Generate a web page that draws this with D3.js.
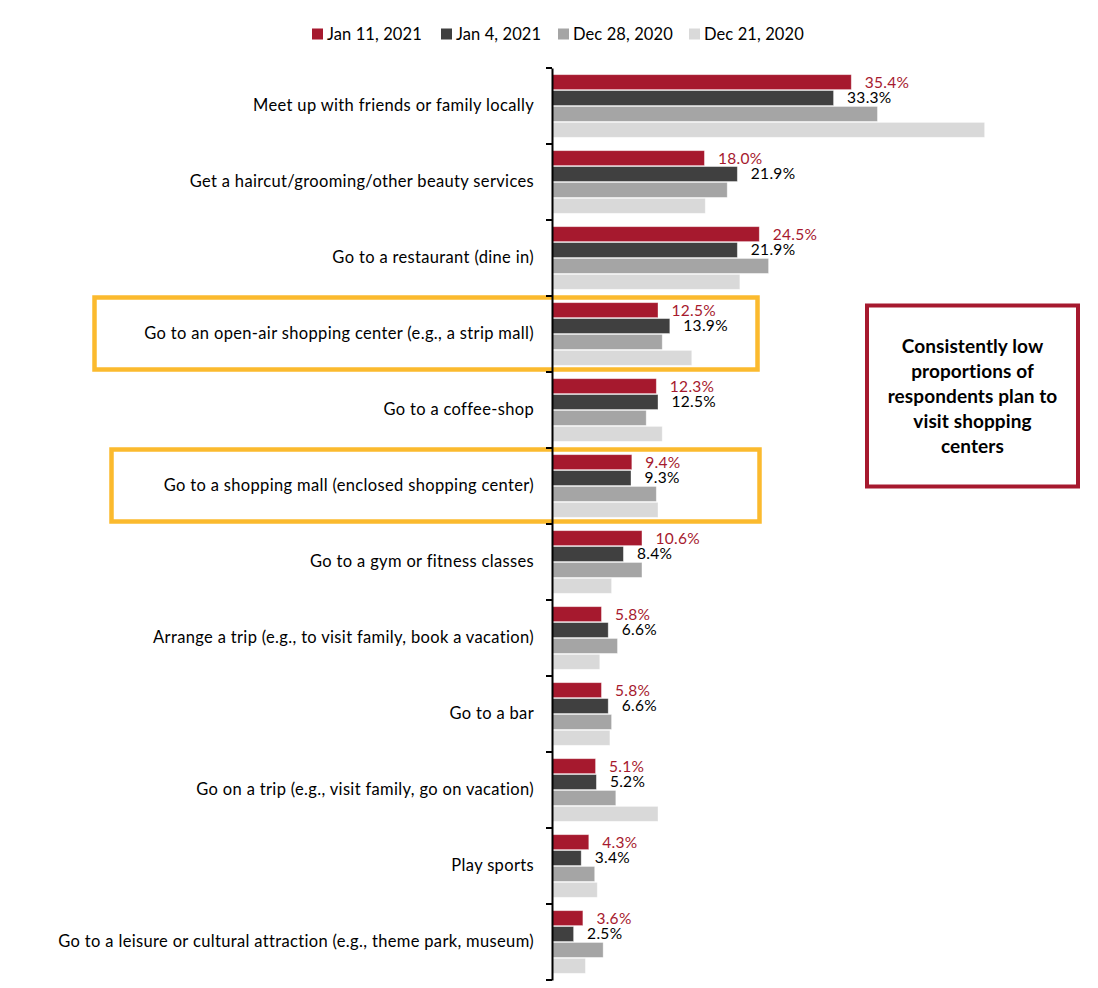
<!DOCTYPE html>
<html>
<head>
<meta charset="utf-8">
<script src="https://cdn.jsdelivr.net/npm/d3@7"></script>
<style>
  html, body { margin: 0; padding: 0; background: #fff; }
  svg { display: block; font-family: Lato, "Liberation Sans", sans-serif; }
</style>
</head>
<body>
<svg id="chart" width="1098" height="988"></svg>
<script>
const categories = [
  "Meet up with friends or family locally",
  "Get a haircut/grooming/other beauty services",
  "Go to a restaurant (dine in)",
  "Go to an open-air shopping center (e.g., a strip mall)",
  "Go to a coffee-shop",
  "Go to a shopping mall (enclosed shopping center)",
  "Go to a gym or fitness classes",
  "Arrange a trip (e.g., to visit family, book a vacation)",
  "Go to a bar",
  "Go on a trip (e.g., visit family, go on vacation)",
  "Play sports",
  "Go to a leisure or cultural attraction (e.g., theme park, museum)"
];
const seriesNames = ["Jan 11, 2021", "Jan 4, 2021", "Dec 28, 2020", "Dec 21, 2020"];
const jan11 = [35.4, 18.0, 24.5, 12.5, 12.3, 9.4, 10.6, 5.8, 5.8, 5.1, 4.3, 3.6];
const jan4  = [33.3, 21.9, 21.9, 13.9, 12.5, 9.3, 8.4, 6.6, 6.6, 5.2, 3.4, 2.5];
const dec28 = [38.5, 20.7, 25.6, 13.0, 11.1, 12.3, 10.6, 7.7, 7.0, 7.5, 5.0, 6.0];
const dec21 = [51.2, 18.1, 22.2, 16.5, 13.0, 12.5, 7.0, 5.6, 6.8, 12.5, 5.3, 3.9];
const seriesValues = [jan11, jan4, dec28, dec21];
const labelledSeries = [0, 1];
const highlighted = [
  "Go to an open-air shopping center (e.g., a strip mall)",
  "Go to a shopping mall (enclosed shopping center)"
];
const calloutLines = ["Consistently low", "proportions of", "respondents plan to", "visit shopping", "centers"];

const colors = ["#A6192E", "#404040", "#A5A5A5", "#D9D9D9"];
const labelColors = ["#A6192E", "#000000"];

const svg = d3.select("#chart");
const axisX = 552;
const x = d3.scaleLinear().domain([0, 50]).range([axisX, axisX + 50 * 8.44]);
const y0 = d3.scaleBand().domain(categories).range([68, 980]).padding(0);
const y1 = d3.scaleBand().domain(d3.range(seriesNames.length))
  .range([0, y0.bandwidth()]).paddingInner(0.0625).paddingOuter(0.42);

// highlight boxes (behind)
const hlBoxes = [
  {cat: highlighted[0], x0: 94.5, x1: 757.5},
  {cat: highlighted[1], x0: 111.5, x1: 759.5}
];
svg.append("g").selectAll("rect").data(hlBoxes).join("rect")
  .attr("x", d => d.x0)
  .attr("y", d => y0(d.cat) + 1.5)
  .attr("width", d => d.x1 - d.x0)
  .attr("height", d => y0.bandwidth() - 4)
  .attr("fill", "none")
  .attr("stroke", "#FBBA2E")
  .attr("stroke-width", 4.5);

// bars
const groups = svg.append("g").selectAll("g").data(categories).join("g")
  .attr("transform", d => `translate(0,${y0(d)})`);
groups.selectAll("rect").data((c, i) => seriesValues.map((s, k) => ({k, v: s[i]}))).join("rect")
  .attr("x", x(0) + 0.5)
  .attr("y", d => y1(d.k))
  .attr("width", d => x(d.v) - x(0))
  .attr("height", y1.bandwidth())
  .attr("fill", d => colors[d.k])
  .attr("stroke", "#ffffff")
  .attr("stroke-opacity", 0.45)
  .attr("stroke-width", 0.8);

// value labels
groups.selectAll("text.val").data((c, i) => labelledSeries.map(k => ({k, v: seriesValues[k][i]}))).join("text")
  .attr("class", "val")
  .attr("x", d => x(d.v) + 14)
  .attr("y", d => y1(d.k) + y1.bandwidth() / 2)
  .attr("dy", "0.35em")
  .attr("fill", d => labelColors[d.k])
  .style("font-size", "15.5px")
  .style("letter-spacing", "0.3px")
  .text(d => d.v.toFixed(1) + "%");

// axis
const yAxis = d3.axisLeft(y0).tickSize(0).tickPadding(18).tickSizeOuter(0);
const axG = svg.append("g").attr("transform", `translate(${axisX},0)`).call(yAxis);
axG.select(".domain").attr("stroke", "#000").attr("stroke-width", 2);
axG.selectAll(".tick text").style("font-size", "16.5px").attr("fill", "#000")
  .style("letter-spacing", "0.34px")
  .style("font-family", "Lato, sans-serif");
// boundary ticks
const bounds = categories.map(c => y0(c)).concat([y0(categories[categories.length - 1]) + y0.bandwidth()]);
axG.selectAll("line.bt").data(bounds).join("line")
  .attr("class", "bt")
  .attr("x1", -6).attr("x2", 0)
  .attr("y1", d => d).attr("y2", d => d)
  .attr("stroke", "#000").attr("stroke-width", 2);

// legend
const legendX = [312, 441, 558, 689];
const lg = svg.append("g").selectAll("g").data(seriesNames).join("g")
  .attr("transform", (d, i) => `translate(${legendX[i]},34)`);
lg.append("rect").attr("x", 0).attr("y", -5.5).attr("width", 11).attr("height", 11)
  .attr("fill", (d, i) => colors[i]);
lg.append("text").attr("x", 15).attr("dy", "0.35em").style("font-size", "16.5px")
  .style("letter-spacing", "0.1px")
  .attr("fill", "#000").text(d => d);

// callout
const cx0 = 867, cy0 = 305.5, cw = 211, ch = 181;
svg.append("rect").attr("x", cx0).attr("y", cy0).attr("width", cw).attr("height", ch)
  .attr("fill", "#fff").attr("stroke", "#A6192E").attr("stroke-width", 4);
svg.append("g").selectAll("text").data(calloutLines).join("text")
  .attr("x", cx0 + cw / 2)
  .attr("y", (d, i) => 353 + i * 25)
  .attr("text-anchor", "middle")
  .style("font-size", "19px").style("font-weight", "bold")
  .style("letter-spacing", "0.1px")
  .attr("fill", "#000")
  .text(d => d);
</script>
</body>
</html>
